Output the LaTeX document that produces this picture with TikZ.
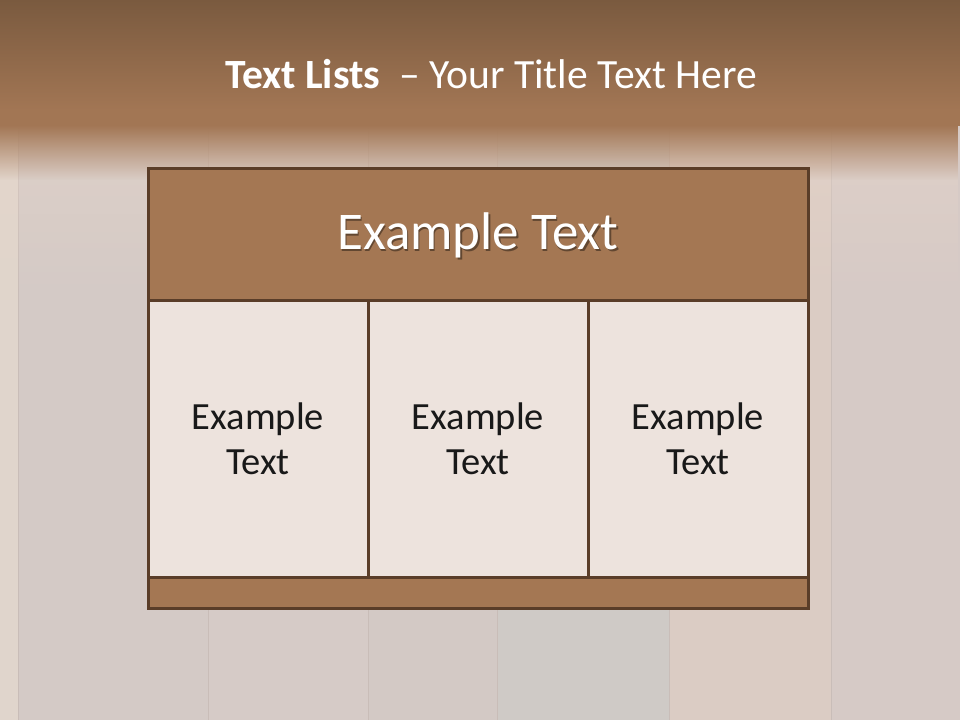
\documentclass[tikz,border=0pt]{standalone}
\usepackage{fontspec}
\setmainfont{Carlito}
\usetikzlibrary{fadings}
\definecolor{topdark}{HTML}{7A5A3F}
\definecolor{bandbrown}{HTML}{A27654}
\definecolor{cellbrown}{HTML}{A47753}
\definecolor{edgebrown}{HTML}{5A3D28}
\definecolor{cellfill}{HTML}{EDE3DD}
\definecolor{plankA}{HTML}{E0D5CC}
\definecolor{plankB}{HTML}{D4CAC6}
\definecolor{plankC}{HTML}{D6CBC7}
\definecolor{plankD}{HTML}{D3C9C5}
\definecolor{plankE}{HTML}{CFCAC6}
\definecolor{plankF}{HTML}{DBCCC4}
\definecolor{plankG}{HTML}{D6CAC6}
\definecolor{plankline}{HTML}{C9BDB8}
\definecolor{glow}{HTML}{E8D6CA}
\tikzset{
  boxcell/.style={draw=edgebrown, line width=3pt, inner sep=0pt, outer sep=0pt, anchor=center},
  brownbox/.style={boxcell, fill=cellbrown},
  lightbox/.style={boxcell, fill=cellfill, align=center, text=black!90,
    font=\fontsize{38.5}{45}\selectfont},
}
\begin{document}
\begin{tikzpicture}[x=1pt,y=-1pt]
\useasboundingbox (0,0) rectangle (960,720);
% wood planks
\fill[plankA] (0,0) rectangle (18,720);
\fill[plankB] (18,0) rectangle (208,720);
\fill[plankC] (208,0) rectangle (368,720);
\fill[plankD] (368,0) rectangle (497,720);
\fill[plankE] (497,0) rectangle (669,720);
\fill[plankF] (669,0) rectangle (831,720);
\fill[plankG] (831,0) rectangle (960,720);
\foreach \px in {18,208,368,497,669,831}{
  \draw[plankline, line width=1pt] (\px,0) -- (\px,720);
}
% slight warm glow below the band
\fill[glow, opacity=0.5, path fading=south] (0,125) rectangle (960,300);
% top brown band
\shade[top color=topdark, bottom color=bandbrown] (0,0) rectangle (960,110);
\fill[bandbrown] (0,109) rectangle (960,126);
\fill[bandbrown, path fading=south] (0,125) rectangle (960,180);
% title
\node[anchor=base, text=white, font=\fontsize{41.6}{50}\selectfont, inner sep=0pt]
  (title) at (491,88) {\textbf{Text Lists}\ \ – Your Title Text Here};
% table
\node[brownbox, minimum width=660pt, minimum height=132pt] (header) at (478,234) {};
\node[lightbox, minimum width=220pt, minimum height=277pt] (cell1) at (258,438.5) {Example\\Text};
\node[lightbox, minimum width=220pt, minimum height=277pt] (cell2) at (478,438.5) {Example\\Text};
\node[lightbox, minimum width=220pt, minimum height=277pt] (cell3) at (698,438.5) {Example\\Text};
\node[brownbox, minimum width=660pt, minimum height=31pt] (footer) at (478,592.5) {};
% header text with shadow
\node[text=black, opacity=0.4, font=\fontsize{53}{60}\selectfont, inner sep=0pt]
  (headershadow) at ([xshift=1.5pt,yshift=-3.5pt]header.center) {Example Text};
\node[text=white, font=\fontsize{53}{60}\selectfont, inner sep=0pt]
  (headertext) at ([yshift=-1.5pt]header.center) {Example Text};
\end{tikzpicture}
\end{document}
